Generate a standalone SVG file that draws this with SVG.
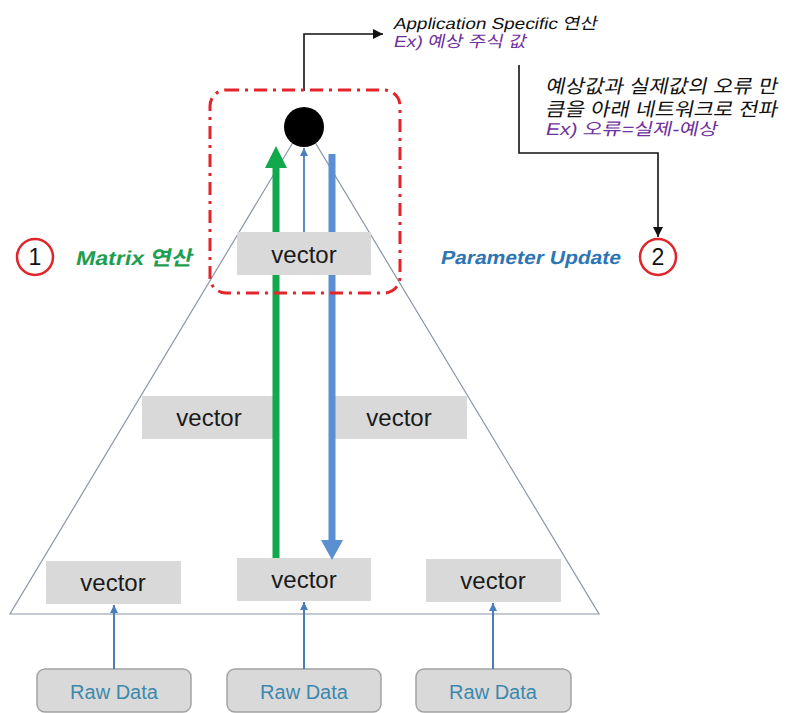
<svg xmlns="http://www.w3.org/2000/svg" width="786" height="713" viewBox="0 0 786 713">
  <defs>
    <style>
      .tri { fill: none; stroke: #8a96a8; stroke-width: 1.2; }
      .vec { fill: #d9d9d9; }
      .vtxt { font-family: "Liberation Sans", "Noto Sans", sans-serif; font-size: 24px; fill: #1a1a1a; text-anchor: middle; }
      .raw { fill: #d9d9d9; stroke: #a3a3a3; stroke-width: 1.5; }
      .rtxt { font-family: "Liberation Sans", "Noto Sans", sans-serif; font-size: 20px; fill: #3c88ad; text-anchor: middle; }
      .feed { stroke: #4a7ebb; stroke-width: 2; fill: none; }
      /* slanted labels: a shear keeps Latin and Hangul at the same angle */
      .note { font-family: "Liberation Sans", "Noto Sans CJK KR", sans-serif; font-style: normal; }
      .blk { stroke: #111; stroke-width: 1.6; fill: none; }
      .badge { fill: #fff; stroke: #e0252b; stroke-width: 2.5; }
      .num { font-family: "Liberation Sans", sans-serif; font-size: 23px; fill: #111; text-anchor: middle; }
    </style>
    <marker id="ahBlack" markerUnits="userSpaceOnUse" markerWidth="12" markerHeight="12" refX="10" refY="5" orient="auto">
      <path d="M0,0 L10,5 L0,10 z" fill="#111"/>
    </marker>
    <marker id="ahBlue" markerUnits="userSpaceOnUse" markerWidth="10" markerHeight="10" refX="8" refY="4" orient="auto">
      <path d="M0,0 L8,4 L0,8 z" fill="#4a7ebb"/>
    </marker>
  </defs>

  <!-- network outline -->
  <polygon class="tri" points="304,124 10,614 599,614"/>

  <!-- lower and middle layers -->
  <g id="vec-mid-left"><rect class="vec" x="142" y="396" width="135" height="43"/><text class="vtxt" x="209" y="426">vector</text></g>
  <g id="vec-mid-right"><rect class="vec" x="332" y="396" width="135" height="43"/><text class="vtxt" x="399" y="426">vector</text></g>
  <g id="vec-bot-left"><rect class="vec" x="46" y="561" width="135" height="43"/><text class="vtxt" x="113" y="591">vector</text></g>
  <g id="vec-bot-center"><rect class="vec" x="237" y="558" width="134" height="43"/><text class="vtxt" x="304" y="588">vector</text></g>
  <g id="vec-bot-right"><rect class="vec" x="426" y="559" width="135" height="43"/><text class="vtxt" x="493" y="589">vector</text></g>

  <g id="raw-left"><rect class="raw" x="37" y="669" width="154" height="43" rx="8"/><text class="rtxt" x="114" y="699">Raw Data</text></g>
  <g id="raw-center"><rect class="raw" x="227" y="669" width="154" height="43" rx="8"/><text class="rtxt" x="304" y="699">Raw Data</text></g>
  <g id="raw-right"><rect class="raw" x="416" y="669" width="155" height="43" rx="8"/><text class="rtxt" x="493" y="699">Raw Data</text></g>

  <!-- connectors -->
  <g id="connectors">
    <line class="feed" x1="114" y1="669" x2="114" y2="605" marker-end="url(#ahBlue)"/>
    <line class="feed" x1="304" y1="669" x2="304" y2="602" marker-end="url(#ahBlue)"/>
    <line class="feed" x1="493" y1="669" x2="493" y2="603" marker-end="url(#ahBlue)"/>

    <!-- forward pass (green) -->
    <line x1="276" y1="558" x2="276" y2="166" stroke="#12a84c" stroke-width="7"/>
    <polygon points="265,168 287,168 276,146" fill="#12a84c"/>

    <!-- backward pass (blue) -->
    <line x1="332" y1="154" x2="332" y2="542" stroke="#5a8fd2" stroke-width="7"/>
    <polygon points="321,540 343,540 332,560" fill="#5a8fd2"/>

    <line x1="304" y1="232" x2="304" y2="148" stroke="#4a7ebb" stroke-width="1.8" marker-end="url(#ahBlue)"/>

    <polyline class="blk" points="304,91 304,34 383,34" marker-end="url(#ahBlack)"/>
    <polyline class="blk" points="519,65 519,153 658,153 658,237" marker-end="url(#ahBlack)"/>
  </g>

  <!-- output layer -->
  <g id="vec-top"><rect class="vec" x="237" y="232" width="134" height="43"/><text class="vtxt" x="304" y="263">vector</text></g>
  <g id="output-node"><circle cx="304" cy="127" r="20" fill="#000"/></g>

  <g id="output-region">
    <rect x="210" y="90" width="190" height="203" rx="16" fill="none" stroke="#e3252b" stroke-width="3" stroke-dasharray="13 6 3 6"/>
  </g>

  <!-- annotations -->
  <g id="badge-1"><circle class="badge" cx="35" cy="257" r="18"/><text class="num" x="35" y="265">1</text></g>
  <g id="label-matrix" transform="translate(75,265) skewX(-12)"><text class="note" x="0" y="0" font-size="20" font-weight="bold" fill="#1e9e50" textLength="117" lengthAdjust="spacingAndGlyphs">Matrix 연산</text></g>

  <g id="badge-2"><circle class="badge" cx="658" cy="257" r="18"/><text class="num" x="658" y="265">2</text></g>
  <g id="label-update" transform="translate(440,264) skewX(-12)"><text class="note" x="0" y="0" font-size="19" font-weight="bold" fill="#2e75b6" textLength="180" lengthAdjust="spacingAndGlyphs">Parameter Update</text></g>

  <g id="label-output">
    <text class="note" transform="translate(393,29) skewX(-12)" font-size="16" fill="#111" textLength="204" lengthAdjust="spacingAndGlyphs">Application Specific 연산</text>
    <text class="note" transform="translate(393,47) skewX(-12)" font-size="16" fill="#7030a0" textLength="133" lengthAdjust="spacingAndGlyphs">Ex) 예상 주식 값</text>
  </g>

  <g id="label-error">
    <text class="note" transform="translate(545,93) skewX(-12)" font-size="19" fill="#111" textLength="232" lengthAdjust="spacingAndGlyphs">예상값과 실제값의 오류 만</text>
    <text class="note" transform="translate(545,116) skewX(-12)" font-size="19" fill="#111" textLength="232" lengthAdjust="spacingAndGlyphs">큼을 아래 네트워크로 전파</text>
    <text class="note" transform="translate(545,135) skewX(-12)" font-size="17" fill="#7030a0" textLength="172" lengthAdjust="spacingAndGlyphs">Ex) 오류=실제-예상</text>
  </g>
</svg>
